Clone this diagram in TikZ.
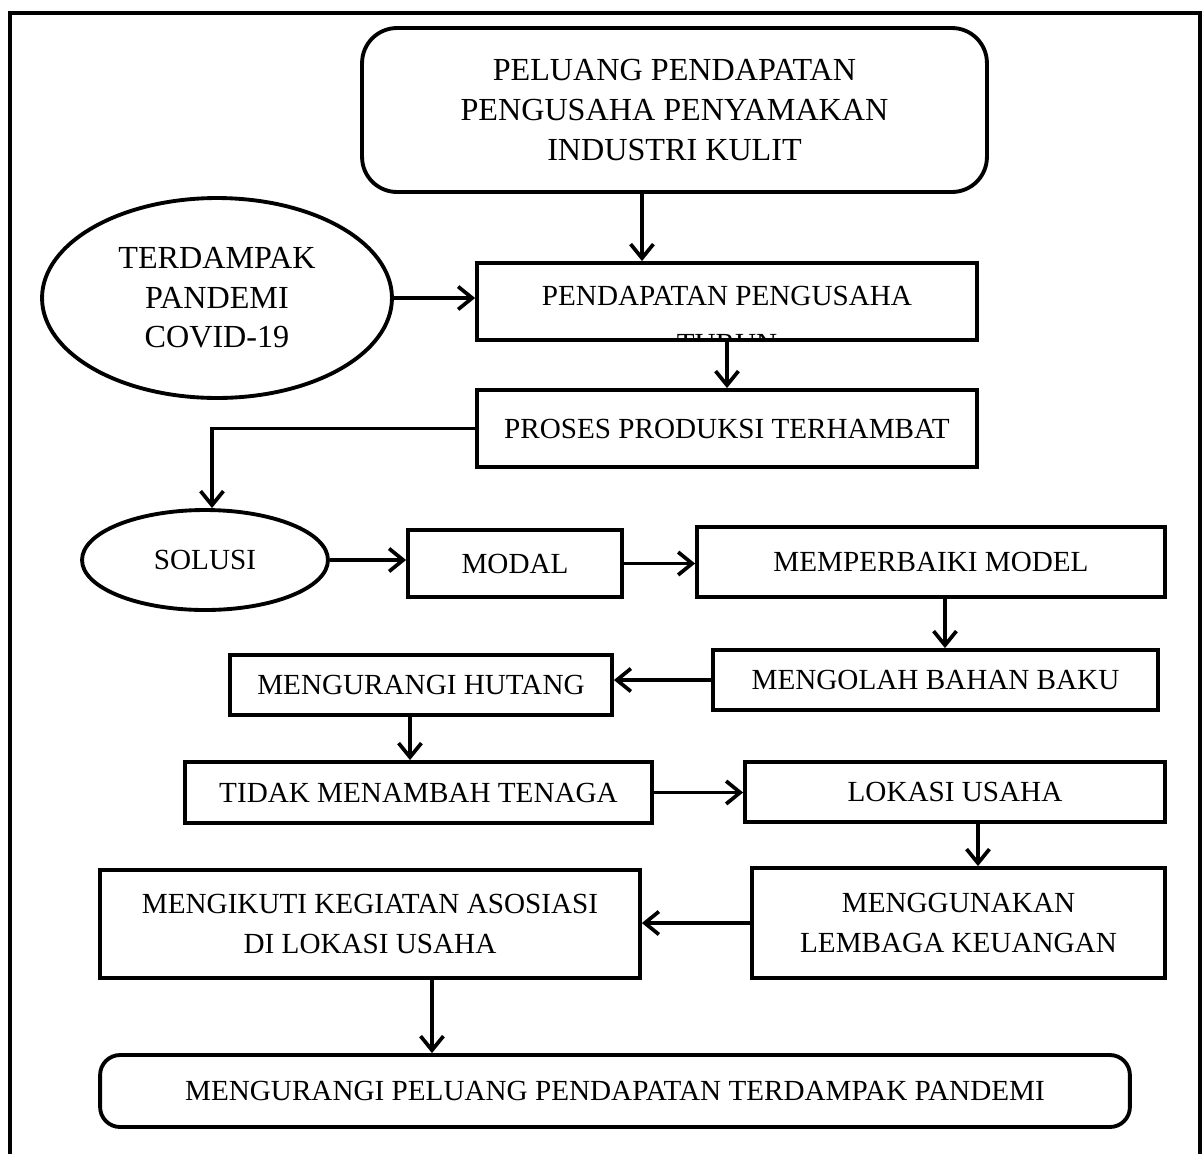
\documentclass[tikz,border=0pt]{standalone}
\usepackage{fontspec}
\setmainfont{Liberation Serif}
\usetikzlibrary{arrows.meta, shapes.geometric}
\definecolor{ink}{HTML}{000000}

\begin{document}
\begin{tikzpicture}[
    x=0.02cm, y=-0.02cm,
    every node/.style={font=\fontsize{16.6}{22.7}\selectfont},
    bigtext/.style={font=\fontsize{18.3}{22.5}\selectfont},
    stage/.style={rectangle, draw=ink, line width=2.2pt, align=center,
                  inner sep=0pt, fill=white},
    rstage/.style={stage, rounded corners=0.7cm},
    oval/.style={ellipse, draw=ink, line width=2.2pt, align=center,
                 inner sep=0pt, fill=white},
    arrow/.style={-{Straight Barb[length=8pt,width=13pt]}, line width=2.1pt, draw=ink},
    frame/.style={draw=ink, line width=2.2pt}
  ]
    \useasboundingbox (0,0) rectangle (1204,1154);
    \draw[frame] (10,1154) |- (1200,13) -- (1200,1154);

    \node[rstage, bigtext, minimum width=12.5cm, minimum height=3.28cm] (peluang) at (674.5,110)
      {PELUANG PENDAPATAN\\PENGUSAHA PENYAMAKAN\\INDUSTRI KULIT};
    \node[oval, bigtext, minimum width=7cm, minimum height=4cm] (terdampak) at (217,298)
      {TERDAMPAK\\PANDEMI\\COVID-19};
    \node[stage, minimum width=10cm, minimum height=1.54cm] (turun) at (727,301.5) {};
    \begin{scope}
      \clip (turun.south west) rectangle (turun.north east);
      \node[align=center, anchor=north, inner sep=0pt,
            font=\fontsize{16.6}{27.5}\selectfont] (turuntext) at (727,286)
        {PENDAPATAN PENGUSAHA\\TURUN};
    \end{scope}
    \node[stage, minimum width=10cm, minimum height=1.54cm] (proses) at (727,428.5)
      {PROSES PRODUKSI TERHAMBAT};

    \node[oval, minimum width=4.92cm, minimum height=2cm] (solusi) at (205,560) {SOLUSI};
    \node[stage, minimum width=4.28cm, minimum height=1.34cm] (modal) at (515,563.5) {MODAL};
    \node[stage, minimum width=9.36cm, minimum height=1.4cm] (memperbaiki) at (931,562)
      {MEMPERBAIKI MODEL};
    \node[stage, minimum width=8.9cm, minimum height=1.2cm] (mengolah) at (935.5,680)
      {MENGOLAH BAHAN BAKU};
    \node[stage, minimum width=7.64cm, minimum height=1.2cm] (hutang) at (421,685)
      {MENGURANGI HUTANG};
    \node[stage, minimum width=9.34cm, minimum height=1.22cm] (tenaga) at (418.5,792.5)
      {TIDAK MENAMBAH TENAGA};
    \node[stage, minimum width=8.4cm, minimum height=1.2cm] (lokasi) at (955,792)
      {LOKASI USAHA};
    \node[stage, minimum width=8.26cm, minimum height=2.2cm] (lembaga) at (958.5,923)
      {MENGGUNAKAN\\LEMBAGA KEUANGAN};
    \node[stage, minimum width=10.8cm, minimum height=2.16cm] (asosiasi) at (370,924)
      {MENGIKUTI KEGIATAN ASOSIASI\\DI LOKASI USAHA};
    \node[stage, rounded corners=0.4cm, minimum width=20.6cm, minimum height=1.44cm] (akhir) at (615,1091)
      {MENGURANGI PELUANG PENDAPATAN TERDAMPAK PANDEMI};

    \draw[arrow] ([xshift=-0.65cm]peluang.south) -- ([xshift=-0.65cm]peluang.south |- turun.north);
    \draw[arrow] (terdampak.east) -- (terdampak.east -| turun.west);
    \draw[arrow] (turun.south) -- (proses.north);
    \draw[arrow] (proses.west) -| ([xshift=0.14cm]solusi.north);
    \draw[arrow] (solusi.east) -- (solusi.east -| modal.west);
    \draw[arrow] (modal.east) -- (modal.east -| memperbaiki.west);
    \draw[arrow] ([xshift=0.28cm]memperbaiki.south) -- ([xshift=0.28cm]memperbaiki.south |- mengolah.north);
    \draw[arrow] (mengolah.west) -- (mengolah.west -| hutang.east);
    \draw[arrow] ([xshift=-0.22cm]hutang.south) -- ([xshift=-0.22cm]hutang.south |- tenaga.north);
    \draw[arrow] (tenaga.east) -- (tenaga.east -| lokasi.west);
    \draw[arrow] ([xshift=0.46cm]lokasi.south) -- ([xshift=0.46cm]lokasi.south |- lembaga.north);
    \draw[arrow] (lembaga.west) -- (lembaga.west -| asosiasi.east);
    \draw[arrow] ([xshift=1.24cm]asosiasi.south) -- ([xshift=1.24cm]asosiasi.south |- akhir.north);
  \end{tikzpicture}
\end{document}
